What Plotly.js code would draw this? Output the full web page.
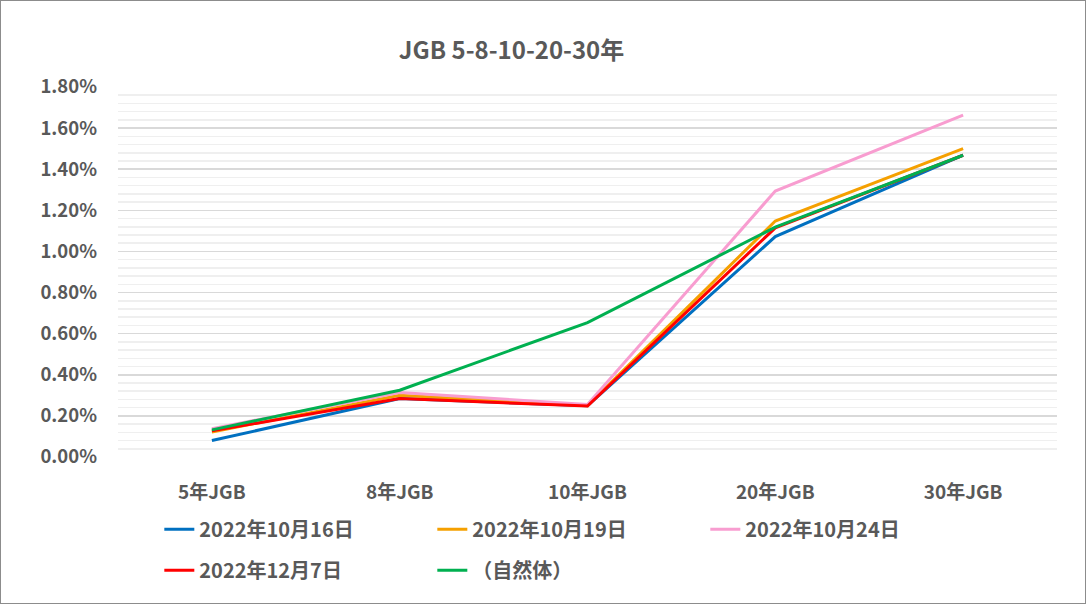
<!DOCTYPE html>
<html>
<head>
<meta charset="utf-8">
<script src="https://cdn.plot.ly/plotly-3.0.1.min.js"></script>
<style>
  html, body { margin: 0; padding: 0; background: #fff; }
  #chart { width: 1084px; height: 602px; border: 1px solid #8c8c8c; }
</style>
</head>
<body>
<div id="chart"></div>
<script>
// maturities on the x axis
const categories = ['5年JGB', '8年JGB', '10年JGB', '20年JGB', '30年JGB'];

// yields in percent
const oct16 = [0.08, 0.284, 0.249, 1.072, 1.468];
const oct19 = [0.122, 0.30, 0.25, 1.148, 1.50];
const oct24 = [0.138, 0.314, 0.255, 1.294, 1.663];
const dec07 = [0.127, 0.284, 0.248, 1.115, 1.468];
const natural = [0.132, 0.325, 0.654, 1.118, 1.468];

const seriesNames = ['2022年10月16日', '2022年10月19日', '2022年10月24日', '2022年12月7日', '（自然体）'];
const seriesColors = ['#0070C0', '#F5A000', '#F89DD0', '#FF0000', '#00B050'];

const yTicks = [0, 0.2, 0.4, 0.6, 0.8, 1.0, 1.2, 1.4, 1.6, 1.8];
const yTickText = ['0.00%', '0.20%', '0.40%', '0.60%', '0.80%', '1.00%', '1.20%', '1.40%', '1.60%', '1.80%'];

const FONT = '"Noto Sans CJK JP", "Noto Sans", sans-serif';
const GREY = '#595959';

const allSeries = [oct16, oct19, oct24, dec07, natural];
const data = allSeries.map((ys, i) => ({
  x: categories,
  y: ys,
  name: seriesNames[i],
  type: 'scatter',
  mode: 'lines',
  line: { color: seriesColors[i], width: 3 },
  legend: i < 3 ? 'legend' : 'legend2'
}));

const legendStyle = {
  orientation: 'h',
  xanchor: 'left',
  yanchor: 'middle',
  entrywidth: 228,
  entrywidthmode: 'pixels',
  font: { family: FONT, size: 20, color: GREY, weight: 'bold' },
  bgcolor: 'rgba(0,0,0,0)'
};

const layout = {
  width: 1084,
  height: 602,
  paper_bgcolor: '#FFFFFF',
  plot_bgcolor: '#FFFFFF',
  margin: { l: 117, r: 28, t: 86, b: 146 },
  showlegend: true,
  font: { family: FONT, size: 18, color: GREY, weight: 'bold' },
  title: {
    text: 'JGB 5-8-10-20-30年',
    font: { family: FONT, size: 24, color: GREY, weight: 'bold' },
    xref: 'container',
    yref: 'container',
    x: 0.471,
    xanchor: 'center',
    y: 0.918,
    yanchor: 'middle'
  },
  xaxis: {
    type: 'category',
    range: [-0.5, 4.5],
    showgrid: false,
    zeroline: false,
    showline: false,
    ticks: '',
    ticklabelstandoff: 22,
    tickfont: { family: FONT, size: 19, color: GREY, weight: 'bold' }
  },
  yaxis: {
    range: [0, 1.8],
    tickvals: yTicks,
    ticktext: yTickText,
    showgrid: true,
    gridcolor: '#D9D9D9',
    gridwidth: 1.5,
    zeroline: false,
    showline: false,
    ticks: '',
    ticklabelstandoff: 20,
    tickfont: { family: FONT, size: 18.5, color: GREY, weight: 'bold' },
    minor: {
      dtick: 0.04,
      showgrid: true,
      gridcolor: '#EFEFEF',
      gridwidth: 1.5
    }
  },
  legend: Object.assign({}, legendStyle, { x: 0.044, y: -0.195 }),
  legend2: Object.assign({}, legendStyle, { x: 0.044, y: -0.306 })
};

Plotly.newPlot('chart', data, layout, { displayModeBar: false, staticPlot: true });
</script>
</body>
</html>
